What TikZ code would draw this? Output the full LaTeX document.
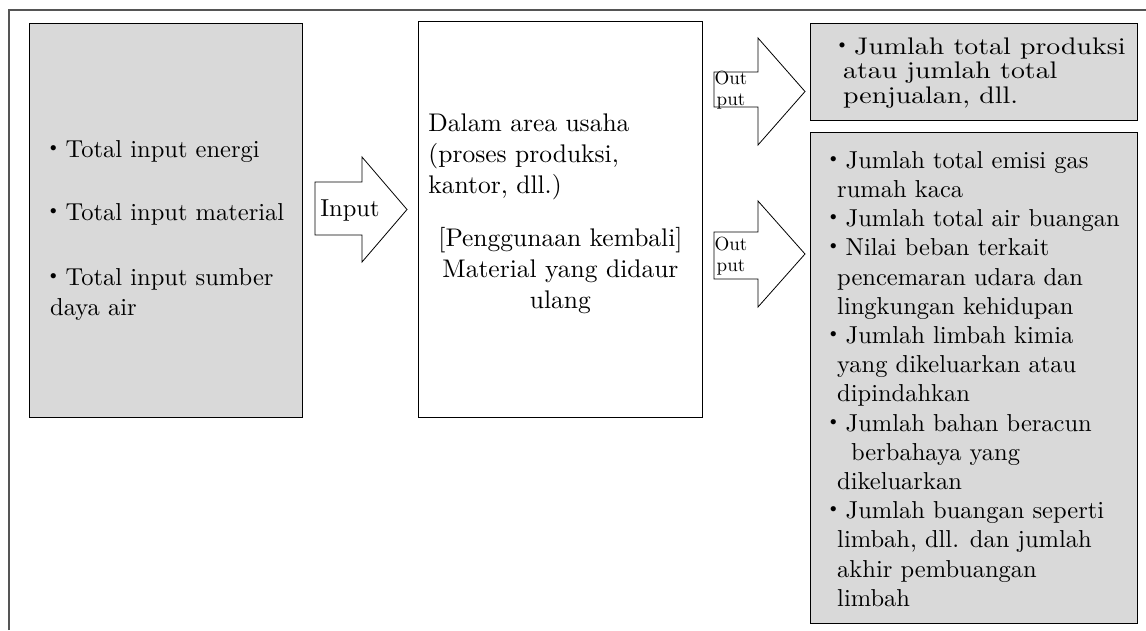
\documentclass[tikz,border=0pt]{standalone}
\usepackage{fontspec}
\setmainfont{lmroman10-regular.otf}
\newfontfamily\widefont{lmroman10-regular.otf}[FakeStretch=1.16]
\newfontfamily\cjk{Noto Sans CJK JP}
\newcommand{\dotmark}{{\cjk ・}}
\definecolor{boxgray}{HTML}{D9D9D9}
\definecolor{framegray}{HTML}{555555}

\begin{document}
\begin{tikzpicture}[x=1pt, y=-1pt,
  every node/.style={font=\fontsize{24.5}{30}\selectfont},
  graybox/.style={draw, fill=boxgray, line width=0.9pt, anchor=north west, inner sep=0pt},
  plainbox/.style={draw, fill=white, line width=0.9pt, anchor=north west, inner sep=0pt},
  listtext/.style={anchor=west, align=left, inner sep=0pt},
  arrowtext/.style={inner sep=0pt, text width=44pt, align=center, font=\fontsize{19}{21}\selectfont},
  bigarrow/.style={draw, fill=white, line width=0.8pt}
]
  \useasboundingbox (0,0) rectangle (1146,630);
  % outer frame (open at right and bottom)
  \draw[framegray, line width=1.5pt] (9,630) -- (9,10) -- (1146,10);

  % boxes
  \node[graybox, minimum width=273pt, minimum height=394pt] (inputs) at (29,23) {};
  \node[plainbox, minimum width=284pt, minimum height=396pt] (site) at (418,21) {};
  \node[graybox, minimum width=327pt, minimum height=97pt] (products) at (810,23) {};
  \node[graybox, minimum width=327pt, minimum height=491pt] (releases) at (810,132) {};

  % block arrows
  \draw[bigarrow] (315,182) -- (362,182) -- (362,157) -- (407,209.5) -- (362,262) -- (362,235) -- (315,235) -- cycle;
  \draw[bigarrow] (714,72) -- (758,72) -- (758,38) -- (805,91.5) -- (758,145) -- (758,107) -- (714,107) -- cycle;
  \draw[bigarrow] (714,232) -- (758,232) -- (758,201) -- (805,254) -- (758,307) -- (758,279) -- (714,279) -- cycle;
  \node[inner sep=0pt] (inlabel) at (350,211) {Input};
  \node[arrowtext] (outtop) at (731,90) {Out\\put};
  \node[arrowtext] (outbottom) at (731,256) {Out\\put};

  % texts
  \node[listtext] (inputstext) at ([xshift=12pt, yshift=-10pt]inputs.west)
    {\dotmark Total input energi\\[33pt]\dotmark Total input material\\[35pt]\dotmark Total input sumber\\\hspace*{9pt}daya air};
  \node[font=\fontsize{25.5}{31}\selectfont, text width=264pt, align=left, inner sep=0pt] (sitetext) at ([yshift=6pt]site.center)
    {Dalam area usaha\\(proses produksi,\\kantor, dll.)\\[22pt]\makebox[264pt]{[Penggunaan kembali]}\\\makebox[264pt]{Material yang didaur}\\\makebox[264pt]{ulang}};
  \node[listtext, font=\widefont\fontsize{24}{24.5}\selectfont] (productstext) at ([xshift=20pt, yshift=-1pt]products.west)
    {\dotmark Jumlah total produksi\\\hspace*{13pt}atau jumlah total\\\hspace*{13pt}penjualan, dll.};
  \node[listtext, font=\fontsize{24.5}{29.2}\selectfont] (releasestext) at ([xshift=11pt, yshift=-1pt]releases.west)
    {\dotmark Jumlah total emisi gas\\
     \hspace*{16pt}rumah kaca\\
     \dotmark Jumlah total air buangan\\
     \dotmark Nilai beban terkait\\
     \hspace*{16pt}pencemaran udara dan\\
     \hspace*{16pt}lingkungan kehidupan\\
     \dotmark Jumlah limbah kimia\\
     \hspace*{16pt}yang dikeluarkan atau\\
     \hspace*{16pt}dipindahkan\\
     \dotmark Jumlah bahan beracun\\
     \hspace*{30pt}berbahaya yang\\
     \hspace*{16pt}dikeluarkan\\
     \dotmark Jumlah buangan seperti\\
     \hspace*{16pt}limbah, dll. dan jumlah\\
     \hspace*{16pt}akhir pembuangan\\
     \hspace*{16pt}limbah};
\end{tikzpicture}
\end{document}
